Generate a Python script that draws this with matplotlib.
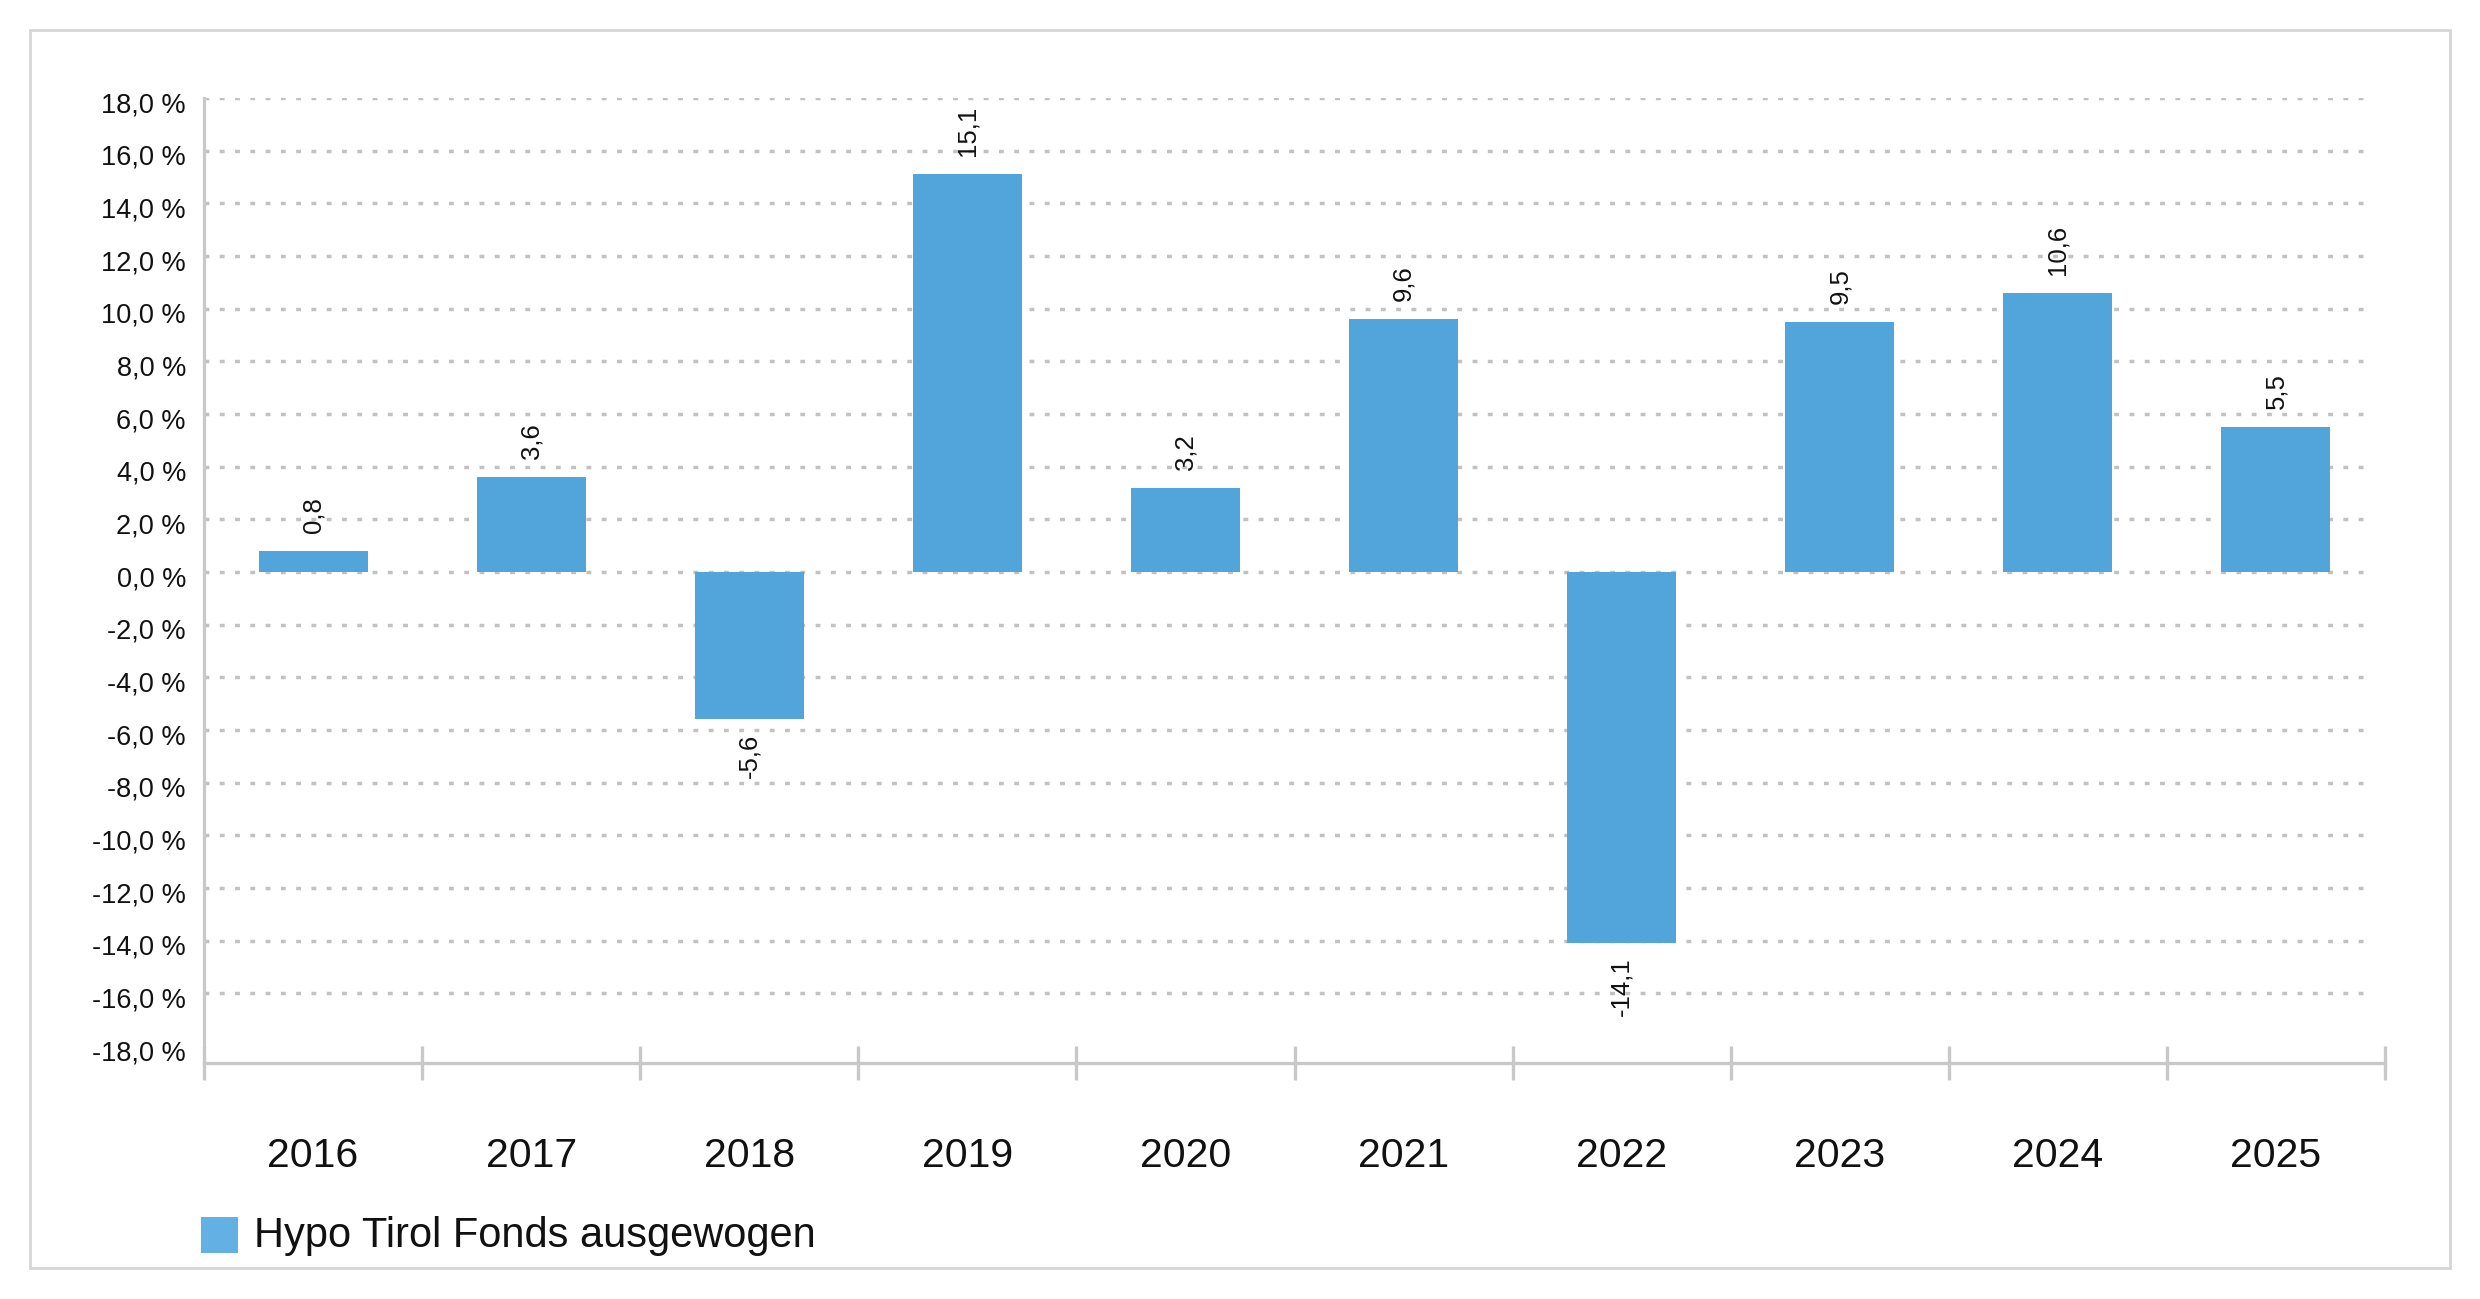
import matplotlib
matplotlib.use("Agg")
import matplotlib.pyplot as plt
from matplotlib.patches import Rectangle
from matplotlib.ticker import FixedLocator
from matplotlib.transforms import ScaledTranslation

years = ["2016", "2017", "2018", "2019", "2020", "2021", "2022", "2023", "2024", "2025"]
values = [0.8, 3.6, -5.6, 15.1, 3.2, 9.6, -14.1, 9.5, 10.6, 5.5]
yticks = [-18, -16, -14, -12, -10, -8, -6, -4, -2, 0, 2, 4, 6, 8, 10, 12, 14, 16, 18]
series_name = "Hypo Tirol Fonds ausgewogen"

W, H = 2480, 1299


def fx(x):
    return x / W


def fy(y):
    return 1 - y / H


font = ["Liberation Sans", "DejaVu Sans"]

fig = plt.figure(figsize=(W / 100, H / 100), dpi=100)

# outer frame
fig.patches.append(Rectangle((fx(30), fy(1268)), fx(2450) - fx(30), fy(30) - fy(1268),
                             transform=fig.transFigure, fill=False,
                             edgecolor="#d6d6d6", linewidth=2))

left, right = fx(204), fx(2385)
bottom, top = fy(1046), fy(98)
ax = fig.add_axes([left, bottom, right - left, top - bottom])

bar_color = "#52a5da"
x = list(range(len(years)))
ax.bar(x, values, width=0.5, color=bar_color, zorder=3)

ax.set_xlim(-0.5, len(years) - 0.5)
ax.set_ylim(-18, 18)

# dotted grid lines (none at the bottom limit)
for t in yticks:
    if t == yticks[0]:
        continue
    ax.hlines(t, -0.5, 9.44, colors="#c2c2c2", linewidth=2.5,
              linestyles=(0, (1.4, 3.0)), zorder=1)

for s in ["top", "right"]:
    ax.spines[s].set_visible(False)
ax.spines["left"].set_color("#c8c8c8")
ax.spines["left"].set_linewidth(2.3)
ax.spines["bottom"].set_color("#c8c8c8")
ax.spines["bottom"].set_linewidth(2.4)
ax.spines["bottom"].set_position(("outward", 12.2))

ax.set_yticks(yticks)
ax.set_yticklabels([f"{t:.1f}".replace(".", ",") + " %" for t in yticks],
                   fontfamily=font, fontsize=19.5, color="#111111")
ax.tick_params(axis="y", length=0, pad=13)
for lab in ax.get_yticklabels():
    lab.set_transform(lab.get_transform() + ScaledTranslation(0, -0.04, fig.dpi_scale_trans))

ax.set_xticks(x)
ax.set_xticklabels(years, fontfamily=font, fontsize=29.5, color="#111111")
ax.tick_params(axis="x", which="major", length=0, pad=53)
ax.xaxis.set_minor_locator(FixedLocator([i - 0.5 for i in range(len(years) + 1)]))
ax.tick_params(axis="x", which="minor", direction="inout", length=24.5, width=2.4,
               color="#c8c8c8")

for xi, v in zip(x, values):
    lbl = f"{v:.1f}".replace(".", ",")
    if v >= 0:
        ax.annotate(lbl, (xi, v), xytext=(0, 13), textcoords="offset points",
                    rotation=90, ha="center", va="bottom", fontsize=18.5,
                    fontfamily=font, color="#111111")
    else:
        ax.annotate(lbl, (xi, v), xytext=(0, -10), textcoords="offset points",
                    rotation=90, ha="center", va="top", fontsize=18.5,
                    fontfamily=font, color="#111111")

# legend
fig.patches.append(Rectangle((fx(201), fy(1253)), fx(238) - fx(201), fy(1217) - fy(1253),
                             transform=fig.transFigure, facecolor="#62b0e4", edgecolor="none"))
fig.text(fx(254), fy(1236), series_name, ha="left", va="center",
         fontfamily=font, fontsize=30, color="#111111")

fig.savefig("out.png", dpi=100, facecolor="white")
